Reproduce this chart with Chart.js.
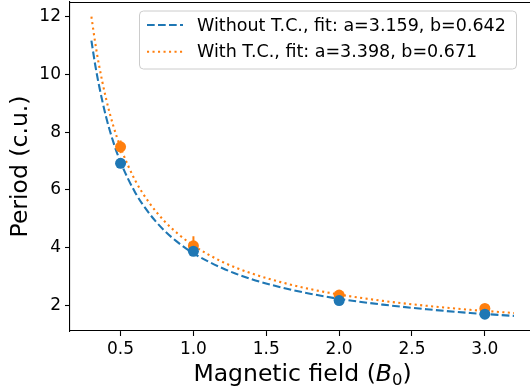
<!DOCTYPE html>
<html>
<head>
<meta charset="utf-8">
<script src="https://cdn.jsdelivr.net/npm/chart.js@4.4.0/dist/chart.umd.min.js"></script>
<style>
  html, body { margin: 0; padding: 0; background: #fff; overflow: hidden; }
  #wrap { width: 530px; height: 392px; }
</style>
</head>
<body>
<div id="wrap"><canvas id="c" width="530" height="392"></canvas></div>
<script>
/* ── data ── */
const fieldPoints   = [0.5, 1.0, 2.0, 3.0];
const periodNoTC    = [6.92, 3.87, 2.16, 1.69];
const errNoTC       = [0.05, 0.08, 0.03, 0.03];
const periodTC      = [7.49, 4.06, 2.35, 1.89];
const errTC         = [0.22, 0.33, 0.05, 0.05];

const fitX          = [0.3, 0.325, 0.35, 0.4, 0.45, 0.5, 0.6, 0.7, 0.8, 0.9, 1.0, 1.2, 1.4, 1.6, 1.8, 2.0, 2.3, 2.6, 2.9, 3.2];
const fitNoTC       = [11.17, 10.36, 9.67, 8.54, 7.66, 6.96, 5.91, 5.16, 4.59, 4.15, 3.80, 3.28, 2.90, 2.62, 2.40, 2.22, 2.02, 1.86, 1.73, 1.63];
const fitTC         = [12.00, 11.13, 10.38, 9.17, 8.22, 7.47, 6.33, 5.53, 4.92, 4.45, 4.07, 3.50, 3.10, 2.80, 2.56, 2.37, 2.15, 1.98, 1.84, 1.73];

const legendLabels  = ['Without T.C., fit: a=3.159, b=0.642', 'With T.C., fit: a=3.398, b=0.671'];
const xTicks        = [0.5, 1.0, 1.5, 2.0, 2.5, 3.0];
const yTicks        = [2, 4, 6, 8, 10, 12];
const yTitle        = 'Period (c.u.)';
const xTitleParts   = ['Magnetic field (', 'B', '0', ')'];

const BLUE   = '#1f77b4';
const ORANGE = '#ff7f0e';
const FONT   = '"DejaVu Sans", sans-serif';

const pts = (xs, ys) => xs.map((x, i) => ({ x, y: ys[i] }));

/* error bars, drawn under the markers */
const errorBars = {
  id: 'errorBars',
  beforeDatasetsDraw(chart) {
    const { ctx, scales: { x, y } } = chart;
    const sets = [[periodTC, errTC, ORANGE], [periodNoTC, errNoTC, BLUE]];
    ctx.save();
    ctx.lineWidth = 2;
    sets.forEach(([vals, errs, col]) => {
      ctx.strokeStyle = col;
      fieldPoints.forEach((fx, i) => {
        const px = x.getPixelForValue(fx);
        ctx.beginPath();
        ctx.moveTo(px, y.getPixelForValue(vals[i] - errs[i]));
        ctx.lineTo(px, y.getPixelForValue(vals[i] + errs[i]));
        ctx.stroke();
      });
    });
    ctx.restore();
  },
};

/* top spine, legend box and axis titles */
const decorations = {
  id: 'decorations',
  afterDraw(chart) {
    const { ctx, chartArea: a } = chart;
    ctx.save();

    // top spine (right spine falls just outside the picture)
    ctx.strokeStyle = '#000';
    ctx.lineWidth = 1.1;
    ctx.beginPath();
    ctx.moveTo(a.left, a.top + 0.5);
    ctx.lineTo(a.right + 2, a.top + 0.5);
    ctx.stroke();

    // legend
    const bx = 139.5, by = 11, bw = 377, bh = 58, r = 4;
    ctx.beginPath();
    ctx.moveTo(bx + r, by);
    ctx.arcTo(bx + bw, by, bx + bw, by + bh, r);
    ctx.arcTo(bx + bw, by + bh, bx, by + bh, r);
    ctx.arcTo(bx, by + bh, bx, by, r);
    ctx.arcTo(bx, by, bx + bw, by, r);
    ctx.closePath();
    ctx.fillStyle = 'rgba(255,255,255,0.8)';
    ctx.fill();
    ctx.strokeStyle = '#cccccc';
    ctx.lineWidth = 1;
    ctx.stroke();

    const lineSets = chart.data.datasets.filter(d => d.showLine);
    ctx.font = '17.5px ' + FONT;
    ctx.textBaseline = 'middle';
    ctx.textAlign = 'left';
    lineSets.forEach((d, i) => {
      const yy = 25 + i * 26.7;
      ctx.strokeStyle = d.borderColor;
      ctx.lineWidth = d.borderWidth;
      ctx.setLineDash(d.borderDash);
      ctx.beginPath();
      ctx.moveTo(147, yy);
      ctx.lineTo(183, yy);
      ctx.stroke();
      ctx.setLineDash([]);
      ctx.fillStyle = '#000';
      ctx.fillText(d.label, 197, yy + 1);
    });

    // x title with italic B and subscript 0
    const big = '23.5px ' + FONT;
    const ital = 'italic 23.5px ' + FONT;
    const sub = '16.5px ' + FONT;
    ctx.textBaseline = 'alphabetic';
    ctx.font = big;  const w0 = ctx.measureText(xTitleParts[0]).width;
    ctx.font = ital; const w1 = ctx.measureText(xTitleParts[1]).width;
    ctx.font = sub;  const w2 = ctx.measureText(xTitleParts[2]).width;
    ctx.font = big;  const w3 = ctx.measureText(xTitleParts[3]).width;
    let cx = (a.left + 535) / 2 - (w0 + w1 + w2 + w3) / 2;
    const base = 381;
    ctx.fillStyle = '#000';
    ctx.font = big;  ctx.fillText(xTitleParts[0], cx, base); cx += w0;
    ctx.font = ital; ctx.fillText(xTitleParts[1], cx, base); cx += w1;
    ctx.font = sub;  ctx.fillText(xTitleParts[2], cx, base + 4); cx += w2;
    ctx.font = big;  ctx.fillText(xTitleParts[3], cx, base);

    // y title
    ctx.translate(27, (a.top + a.bottom) / 2);
    ctx.rotate(-Math.PI / 2);
    ctx.textAlign = 'center';
    ctx.font = big;
    ctx.fillText(yTitle, 0, 0);
    ctx.restore();
  },
};

const axisStyle = {
  border: { display: true, color: '#000', width: 1.1 },
  grid: { display: true, drawOnChartArea: false, drawTicks: true, tickLength: 5, tickColor: '#000', tickWidth: 1.1 },
};

new Chart(document.getElementById('c'), {
  type: 'scatter',
  data: {
    datasets: [
      { label: 'pts-noTC', data: pts(fieldPoints, periodNoTC), backgroundColor: BLUE, borderColor: BLUE,
        pointRadius: 5.5, pointBorderWidth: 0, showLine: false, order: 0 },
      { label: 'pts-TC', data: pts(fieldPoints, periodTC), backgroundColor: ORANGE, borderColor: ORANGE,
        pointRadius: 5.5, pointBorderWidth: 0, showLine: false, order: 1 },
      { label: legendLabels[0], data: pts(fitX, fitNoTC), borderColor: BLUE, borderWidth: 2.1,
        borderDash: [7.7, 3.3], pointRadius: 0, showLine: true, cubicInterpolationMode: 'monotone', order: 3 },
      { label: legendLabels[1], data: pts(fitX, fitTC), borderColor: ORANGE, borderWidth: 2.1,
        borderDash: [2.1, 3.4], pointRadius: 0, showLine: true, cubicInterpolationMode: 'monotone', order: 2 },
    ],
  },
  options: {
    responsive: false,
    animation: false,
    events: [],
    layout: { autoPadding: false, padding: { top: 2, right: 1, bottom: 0, left: 0 } },
    plugins: { legend: { display: false }, tooltip: { enabled: false } },
    scales: {
      x: {
        type: 'linear', min: 0.153, max: 3.303,
        ...axisStyle,
        afterFit: s => { s.height = 61; s.paddingLeft = 0; s.paddingRight = 0; },
        afterBuildTicks: s => { s.ticks = xTicks.map(v => ({ value: v })); },
        ticks: { color: '#000', padding: 3, font: { family: FONT, size: 17 }, maxRotation: 0,
                 callback: v => v.toFixed(1) },
      },
      y: {
        type: 'linear', min: 1.106, max: 12.51,
        ...axisStyle,
        afterFit: s => { s.width = 70; s.paddingTop = 0; s.paddingBottom = 0; },
        afterBuildTicks: s => { s.ticks = yTicks.map(v => ({ value: v })); },
        ticks: { color: '#000', padding: 4, font: { family: FONT, size: 17 }, callback: v => String(v) },
      },
    },
  },
  plugins: [errorBars, decorations],
});
</script>
</body>
</html>
